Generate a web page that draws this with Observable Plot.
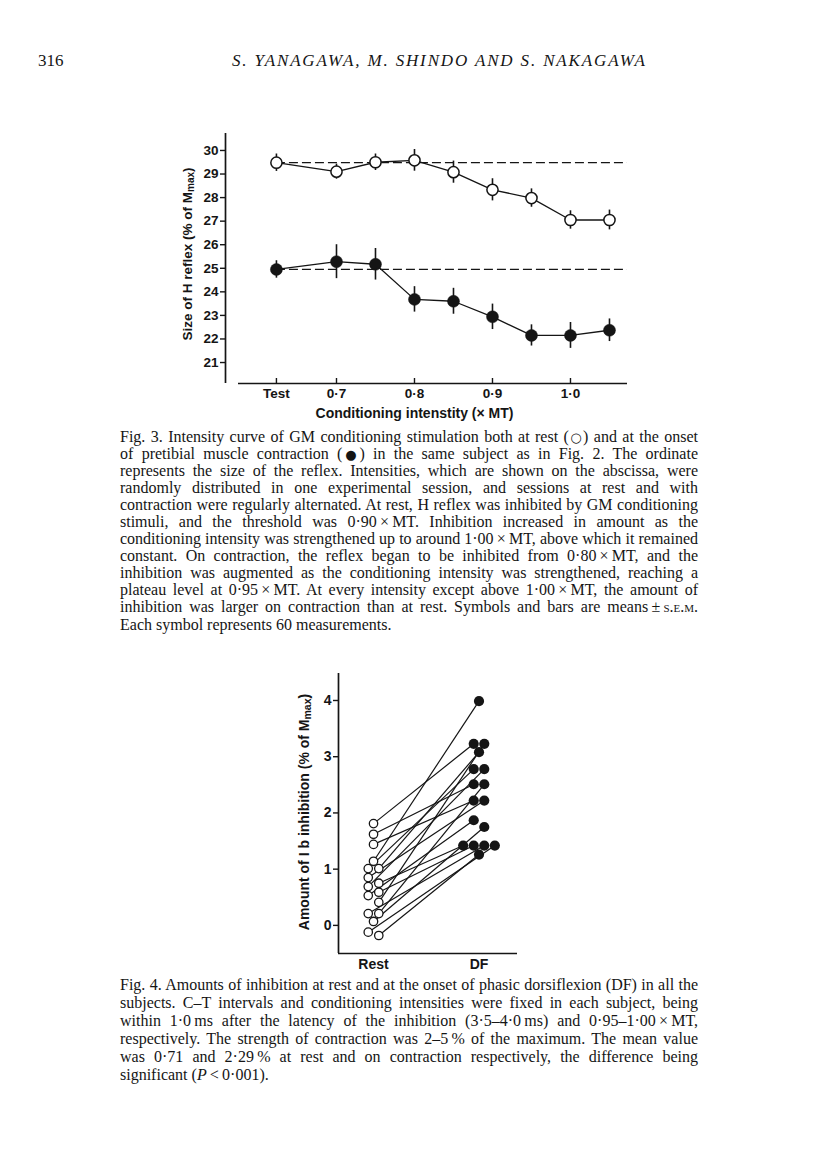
<!DOCTYPE html>
<html><head><meta charset="utf-8">
<script src="https://cdn.jsdelivr.net/npm/d3@7"></script>
<script src="https://cdn.jsdelivr.net/npm/@observablehq/plot@0.6"></script>
<style>
html,body{margin:0;padding:0;background:#fff;}
#page{position:relative;width:816px;height:1160px;overflow:hidden;background:#fff;color:#151515;}
.abs{position:absolute;}
.serif{font-family:"Liberation Serif","Times New Roman",serif;}
.cap{position:absolute;left:120px;width:578px;font-family:"Liberation Serif","Times New Roman",serif;font-size:16px;color:#151515;}
.cap div{white-space:nowrap;text-align:justify;text-align-last:justify;height:var(--lh);line-height:var(--lh);}
.cap div.last{text-align-last:left;}
.sc{font-variant:small-caps;}
.sym{font-family:"DejaVu Sans",sans-serif;font-size:13px;line-height:1;}
.sym.f{margin:0 -1.5px;}
svg text{font-family:"Liberation Sans",Arial,sans-serif;font-weight:bold;}
</style></head>
<body><div id="page">
<div class="abs serif" style="left:38px;top:51px;font-size:17px;">316</div>
<div id="runhead" class="abs serif" style="left:232px;top:51px;font-size:17px;font-style:italic;white-space:nowrap;">S. YANAGAWA, M. SHINDO AND S. NAKAGAWA</div>
<div id="fig3" class="abs" style="left:150px;top:120px;"></div>
<div id="cap3" class="cap" style="top:428px;--lh:17.05px;"></div>
<div id="fig4" class="abs" style="left:280px;top:660px;"></div>
<div id="cap4" class="cap" style="top:976px;--lh:18px;"></div>
</div>
<script>
// ---------- Fig. 3 data ----------
const intensityLabels = ["Test", "0·7", "0·75", "0·8", "0·85", "0·9", "0·95", "1·0", "1·05"];
const intensity = [0.623, 0.70, 0.75, 0.80, 0.85, 0.90, 0.95, 1.00, 1.05]; // "Test" sits left of 0·7
const restMean = [29.48, 29.1, 29.5, 29.58, 29.08, 28.33, 27.98, 27.05, 27.05];
const restSem = [0.37, 0.32, 0.35, 0.46, 0.47, 0.47, 0.39, 0.39, 0.42];
const contrMean = [24.95, 25.28, 25.17, 23.68, 23.6, 22.94, 22.15, 22.15, 22.37];
const contrSem = [0.37, 0.72, 0.67, 0.54, 0.55, 0.54, 0.45, 0.55, 0.48];
const fig3YTicks = [21, 22, 23, 24, 25, 26, 27, 28, 29, 30];
const fig3XTicks = [0.623, 0.7, 0.8, 0.9, 1.0];
const fig3XTickLabels = ["Test", "0·7", "0·8", "0·9", "1·0"];
const fig3XLabel = "Conditioning intenstity (× MT)";

// ---------- Fig. 4 data (one entry per subject: rest value paired with DF value) ----------
const restAmount = [1.81, 1.62, 1.44, 1.14, 1.01, 1.01, 0.85, 0.75, 0.69, 0.59, 0.53, 0.41, 0.21, 0.21, 0.07, -0.12, -0.18];
const dfAmount   = [3.23, 2.51, 2.22, 3.99, 2.78, 3.08, 2.22, 1.42, 2.78, 1.42, 1.87, 3.23, 1.42, 2.51, 1.75, 1.42, 1.26];
// side-by-side slot of coincident symbols (0 = centred, ±0.5, ±1.5)
const restSlot = [0, 0, 0, 0, -0.5, 0.5, -0.5, 0.5, -0.5, 0.5, -0.5, 0.5, -0.5, 0.5, 0, -0.5, 0.5];
const dfSlot   = [-0.5, -0.5, -0.5, 0, -0.5, 0, 0.5, -1.5, 0.5, -0.5, -0.5, 0.5, 0.5, 0.5, 0.5, 1.5, 0];
const groups = ["Rest", "DF"];
const fig4YTicks = [0, 1, 2, 3, 4];

// ---------- Captions ----------
const NB = "\u202F"; // narrow no-break space (not stretched by justification)
const TIMES = NB + "×" + NB;
const OPEN = '(<span class="sym">○</span>)';
const FILLED = '(<span class="sym f">●</span>)';
const cap3Lines = [
  `Fig. 3. Intensity curve of GM conditioning stimulation both at rest ${OPEN} and at the onset`,
  `of pretibial muscle contraction ${FILLED} in the same subject as in Fig. 2. The ordinate`,
  "represents the size of the reflex. Intensities, which are shown on the abscissa, were",
  "randomly distributed in one experimental session, and sessions at rest and with",
  "contraction were regularly alternated. At rest, H reflex was inhibited by GM conditioning",
  `stimuli, and the threshold was 0·90${TIMES}MT. Inhibition increased in amount as the`,
  `conditioning intensity was strengthened up to around 1·00${TIMES}MT, above which it remained`,
  `constant. On contraction, the reflex began to be inhibited from 0·80${TIMES}MT, and the`,
  "inhibition was augmented as the conditioning intensity was strengthened, reaching a",
  `plateau level at 0·95${TIMES}MT. At every intensity except above 1·00${TIMES}MT, the amount of`,
  `inhibition was larger on contraction than at rest. Symbols and bars are means${NB}±${NB}<span class="sc">s.e.m.</span>`,
  "Each symbol represents 60 measurements."
];
const cap4Lines = [
  "Fig. 4. Amounts of inhibition at rest and at the onset of phasic dorsiflexion (DF) in all the",
  "subjects. C–T intervals and conditioning intensities were fixed in each subject, being",
  `within 1·0${NB}ms after the latency of the inhibition (3·5–4·0${NB}ms) and 0·95–1·00${TIMES}MT,`,
  `respectively. The strength of contraction was 2–5${NB}% of the maximum. The mean value`,
  `was 0·71 and 2·29${NB}% at rest and on contraction respectively, the difference being`,
  `significant (<i>P</i>${NB}&lt;${NB}0·001).`
];
function fillCap(id, lines) {
  document.getElementById(id).innerHTML = lines.map((l, i) =>
    `<div class="${i === lines.length - 1 ? "last" : ""}">${l}</div>`).join("");
}
fillCap("cap3", cap3Lines);
fillCap("cap4", cap4Lines);

// running head width fit
(function () {
  const el = document.getElementById("runhead");
  const target = 413;
  const w = el.getBoundingClientRect().width;
  const n = el.textContent.length;
  el.style.letterSpacing = ((target - w) / (n - 1)) + "px";
})();

const ink = "#151515";

// ---------- Fig. 3 plot ----------
const rest3 = intensity.map((x, i) => ({x, m: restMean[i], e: restSem[i]}));
const contr3 = intensity.map((x, i) => ({x, m: contrMean[i], e: contrSem[i]}));
const W3 = 500, H3 = 310, mL3 = 75, mR3 = 23, mT3 = 13, mB3 = 47;
const x3Domain = [0.5577, 1.0731], y3Domain = [20.11, 30.72];
const frameH3 = H3 - mT3 - mB3;
const fig3 = Plot.plot({
  width: W3, height: H3, marginLeft: mL3, marginRight: mR3, marginTop: mT3, marginBottom: mB3,
  x: {domain: x3Domain}, y: {domain: y3Domain},
  style: {fontFamily: "Liberation Sans, Arial, sans-serif", fontSize: "13.5px", color: ink, background: "transparent", overflow: "visible"},
  marks: [
    Plot.ruleY([restMean[0]], {x1: () => intensity[0], x2: () => x3Domain[1], stroke: ink, strokeWidth: 1.2, strokeDasharray: "9,4"}),
    Plot.ruleY([contrMean[0]], {x1: () => intensity[0], x2: () => x3Domain[1], stroke: ink, strokeWidth: 1.2, strokeDasharray: "9,4"}),
    Plot.line(rest3, {x: "x", y: "m", stroke: ink, strokeWidth: 1.3}),
    Plot.line(contr3, {x: "x", y: "m", stroke: ink, strokeWidth: 1.3}),
    Plot.ruleX(rest3, {x: "x", y1: d => d.m - d.e, y2: d => d.m + d.e, stroke: ink, strokeWidth: 1.6}),
    Plot.ruleX(contr3, {x: "x", y1: d => d.m - d.e, y2: d => d.m + d.e, stroke: ink, strokeWidth: 1.6}),
    Plot.dot(rest3, {x: "x", y: "m", r: 5.6, fill: "white", stroke: ink, strokeWidth: 1.5}),
    Plot.dot(contr3, {x: "x", y: "m", r: 6, fill: ink, stroke: ink, strokeWidth: 0.5}),
    Plot.ruleX([x3Domain[0]], {stroke: ink, strokeWidth: 1.7}),
    Plot.ruleY([y3Domain[0]], {insetLeft: 13, stroke: ink, strokeWidth: 1.7}),
    Plot.tickX(fig3XTicks, {x: d => d, insetTop: frameH3 - 5, stroke: ink, strokeWidth: 1.4}),
    Plot.axisY({ticks: fig3YTicks, tickSize: 5, tickPadding: 2, label: null, tickFormat: d => String(d), stroke: ink, strokeWidth: 1.4}),
    Plot.axisX({ticks: fig3XTicks, tickSize: 0, tickPadding: 5, label: null, tickFormat: (d, i) => fig3XTickLabels[i]}),
    Plot.text([fig3XLabel], {frameAnchor: "bottom", dy: 30, dx: -12, lineAnchor: "middle", fontSize: 14, fill: ink})
  ]
});
document.getElementById("fig3").appendChild(fig3);
(function () {
  const t = d3.select(fig3).append("text")
    .attr("transform", `translate(${187 - 150},${254 - 120}) rotate(-90)`)
    .attr("text-anchor", "middle").attr("dominant-baseline", "central")
    .attr("fill", ink).attr("font-size", 13.5);
  t.append("tspan").text("Size of H reflex (% of M");
  t.append("tspan").attr("dy", 3).attr("font-size", 10).text("max");
  t.append("tspan").attr("dy", -3).text(")");
})();

// ---------- Fig. 4 plot ----------
const slotStep = 0.1;
const subjects = restAmount.map((r, i) => ({
  rx: 0 + restSlot[i] * slotStep, ry: r,
  dx: 1 + dfSlot[i] * slotStep, dy: dfAmount[i]
}));
const W4 = 260, H4 = 320, mL4 = 58, mR4 = 23, mT4 = 13, mB4 = 27;
const x4Domain = [-0.332, 1.365], y4Domain = [-0.5, 4.48];
const fig4 = Plot.plot({
  width: W4, height: H4, marginLeft: mL4, marginRight: mR4, marginTop: mT4, marginBottom: mB4,
  x: {domain: x4Domain}, y: {domain: y4Domain},
  style: {fontFamily: "Liberation Sans, Arial, sans-serif", fontSize: "14px", color: ink, background: "transparent", overflow: "visible"},
  marks: [
    Plot.link(subjects, {x1: "rx", y1: "ry", x2: "dx", y2: "dy", stroke: ink, strokeWidth: 1.2}),
    Plot.dot(subjects, {x: "rx", y: "ry", r: 4.2, fill: "white", stroke: ink, strokeWidth: 1.3}),
    Plot.dot(subjects, {x: "dx", y: "dy", r: 5.1, fill: ink}),
    Plot.ruleX([x4Domain[0]], {stroke: ink, strokeWidth: 1.7}),
    Plot.ruleY([y4Domain[0]], {stroke: ink, strokeWidth: 1.7}),
    Plot.axisY({ticks: fig4YTicks, tickSize: 5, tickPadding: 2, label: null, tickFormat: d => String(d), stroke: ink, strokeWidth: 1.4}),
    Plot.axisX({ticks: [0, 1], tickSize: 0, tickPadding: 6, label: null, tickFormat: (d, i) => groups[i]})
  ]
});
document.getElementById("fig4").appendChild(fig4);
(function () {
  const t = d3.select(fig4).append("text")
    .attr("transform", `translate(${304 - 280},${812 - 660}) rotate(-90)`)
    .attr("text-anchor", "middle").attr("dominant-baseline", "central")
    .attr("fill", ink).attr("font-size", 14);
  t.append("tspan").text("Amount of I b inhibition (% of M");
  t.append("tspan").attr("dy", 3).attr("font-size", 10.5).text("max");
  t.append("tspan").attr("dy", -3).text(")");
})();
</script>
</body></html>
